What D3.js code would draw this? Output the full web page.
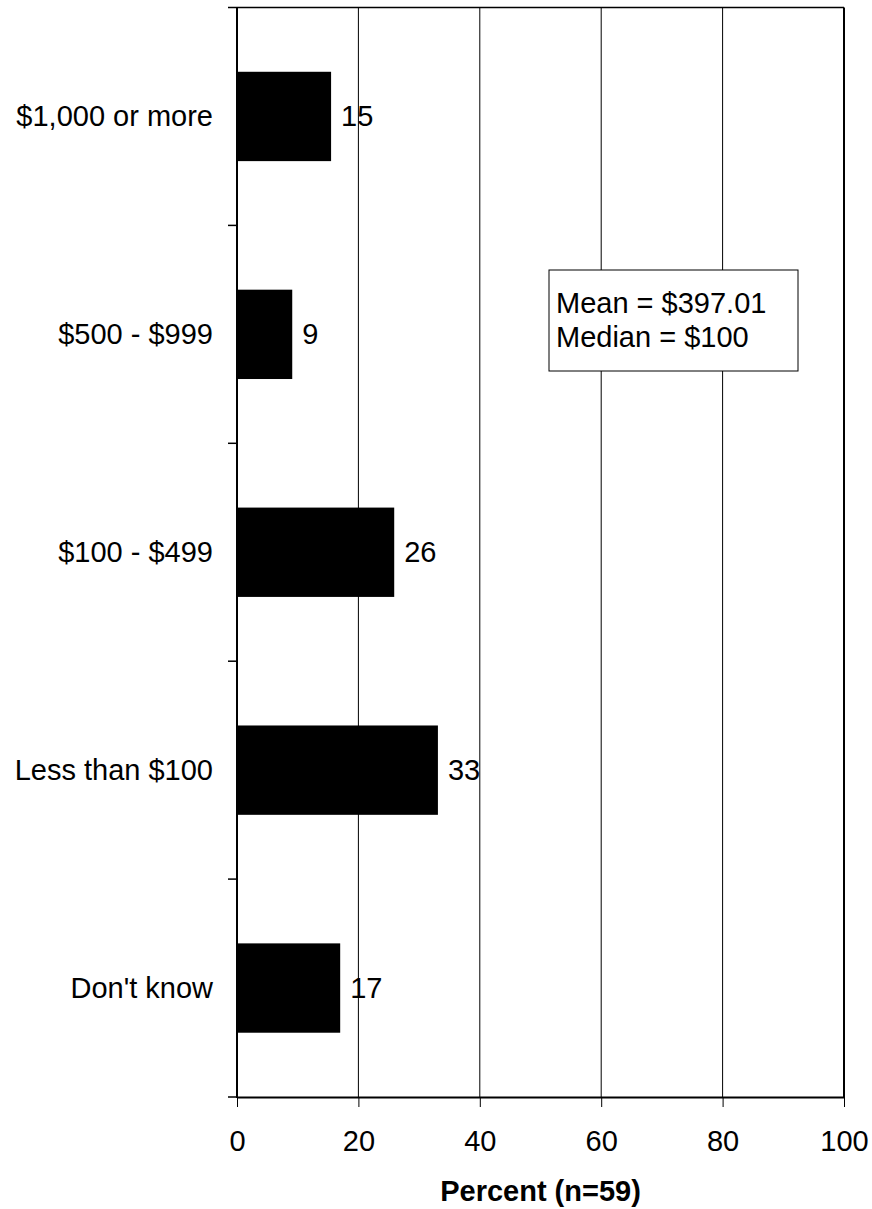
<!DOCTYPE html>
<html>
<head>
<meta charset="utf-8">
<script src="https://cdn.jsdelivr.net/npm/d3@7"></script>
<style>
  html, body { margin: 0; padding: 0; background: #fff; }
  svg { display: block; font-family: "Liberation Sans", Arial, sans-serif; }
</style>
</head>
<body>
<svg id="chart" width="872" height="1209"></svg>
<script>
const categories = ["$1,000 or more", "$500 - $999", "$100 - $499", "Less than $100", "Don't know"];
const values = [15.5, 9.1, 25.9, 33.1, 17];
const valueLabels = ["15", "9", "26", "33", "17"];
const xTicks = [0, 20, 40, 60, 80, 100];
const gridTicks = [20, 40, 60, 80];
const axisTitle = "Percent (n=59)";
const noteLines = ["Mean = $397.01", "Median = $100"];

(function () {
const svg = d3.select("#chart");
const pLeft = 237, pRight = 844, pTop = 7.5, pBottom = 1097;

const x = d3.scaleLinear().domain([0, 100]).range([pLeft, pRight]);
const yBand = d3.scaleBand().domain(categories).range([pTop, pBottom]).paddingInner(0.59).paddingOuter(0.295);
const yCell = d3.scaleBand().domain(categories).range([pTop, pBottom]).padding(0);

// gridlines
svg.append("g").selectAll("line").data(gridTicks).join("line")
  .attr("x1", d => x(d)).attr("x2", d => x(d))
  .attr("y1", pTop).attr("y2", pBottom)
  .attr("stroke", "#000").attr("stroke-width", 1);

// frame (top and right)
svg.append("line").attr("x1", pLeft).attr("x2", pRight).attr("y1", pTop).attr("y2", pTop)
  .attr("stroke", "#000").attr("stroke-width", 1.5);
svg.append("line").attr("x1", pRight).attr("x2", pRight).attr("y1", pTop).attr("y2", pBottom)
  .attr("stroke", "#000").attr("stroke-width", 2);

// bars
svg.append("g").selectAll("rect").data(categories).join("rect")
  .attr("x", x(0))
  .attr("y", d => yBand(d))
  .attr("width", (d, i) => x(values[i]) - x(0))
  .attr("height", yBand.bandwidth())
  .attr("fill", "#000");

// value labels
svg.append("g").selectAll("text").data(categories).join("text")
  .attr("x", (d, i) => x(values[i]) + 10)
  .attr("y", d => yBand(d) + yBand.bandwidth() / 2 + 10)
  .attr("font-size", 29)
  .attr("fill", "#000")
  .text((d, i) => valueLabels[i]);

// category labels
svg.append("g").selectAll("text").data(categories).join("text")
  .attr("x", 213)
  .attr("y", d => yBand(d) + yBand.bandwidth() / 2 + 10)
  .attr("text-anchor", "end")
  .attr("font-size", 29)
  .attr("fill", "#000")
  .text(d => d);

// y axis line and boundary ticks
const boundaries = categories.map(c => yCell(c)).concat([pBottom]);
svg.append("g").selectAll("line").data(boundaries).join("line")
  .attr("x1", pLeft - 9).attr("x2", pLeft)
  .attr("y1", d => d).attr("y2", d => d)
  .attr("stroke", "#000").attr("stroke-width", 1.5);
svg.append("line").attr("x1", pLeft).attr("x2", pLeft).attr("y1", pTop).attr("y2", pBottom + 1)
  .attr("stroke", "#000").attr("stroke-width", 2);

// x axis
const xAxis = svg.append("g").attr("transform", `translate(0,${pBottom})`)
  .call(d3.axisBottom(x).tickValues(xTicks).tickSize(10).tickPadding(23).tickSizeOuter(0));
xAxis.select(".domain").attr("stroke", "#000").attr("stroke-width", 2);
xAxis.selectAll(".tick line").attr("stroke", "#000").attr("stroke-width", 1);
xAxis.selectAll(".tick text").attr("font-size", 29).attr("fill", "#000")
  .attr("font-family", "Liberation Sans, Arial, sans-serif");

// axis title
svg.append("text")
  .attr("x", (pLeft + pRight) / 2)
  .attr("y", 1201)
  .attr("text-anchor", "middle")
  .attr("font-size", 29)
  .attr("font-weight", "bold")
  .attr("fill", "#000")
  .text(axisTitle);

// note box
const note = svg.append("g");
note.append("rect")
  .attr("x", 549).attr("y", 270).attr("width", 249).attr("height", 101)
  .attr("fill", "#fff").attr("stroke", "#000").attr("stroke-width", 1);
note.selectAll("text").data(noteLines).join("text")
  .attr("x", 556)
  .attr("y", (d, i) => 313 + i * 34)
  .attr("font-size", 29)
  .attr("fill", "#000")
  .text(d => d);
})();
</script>
</body>
</html>
